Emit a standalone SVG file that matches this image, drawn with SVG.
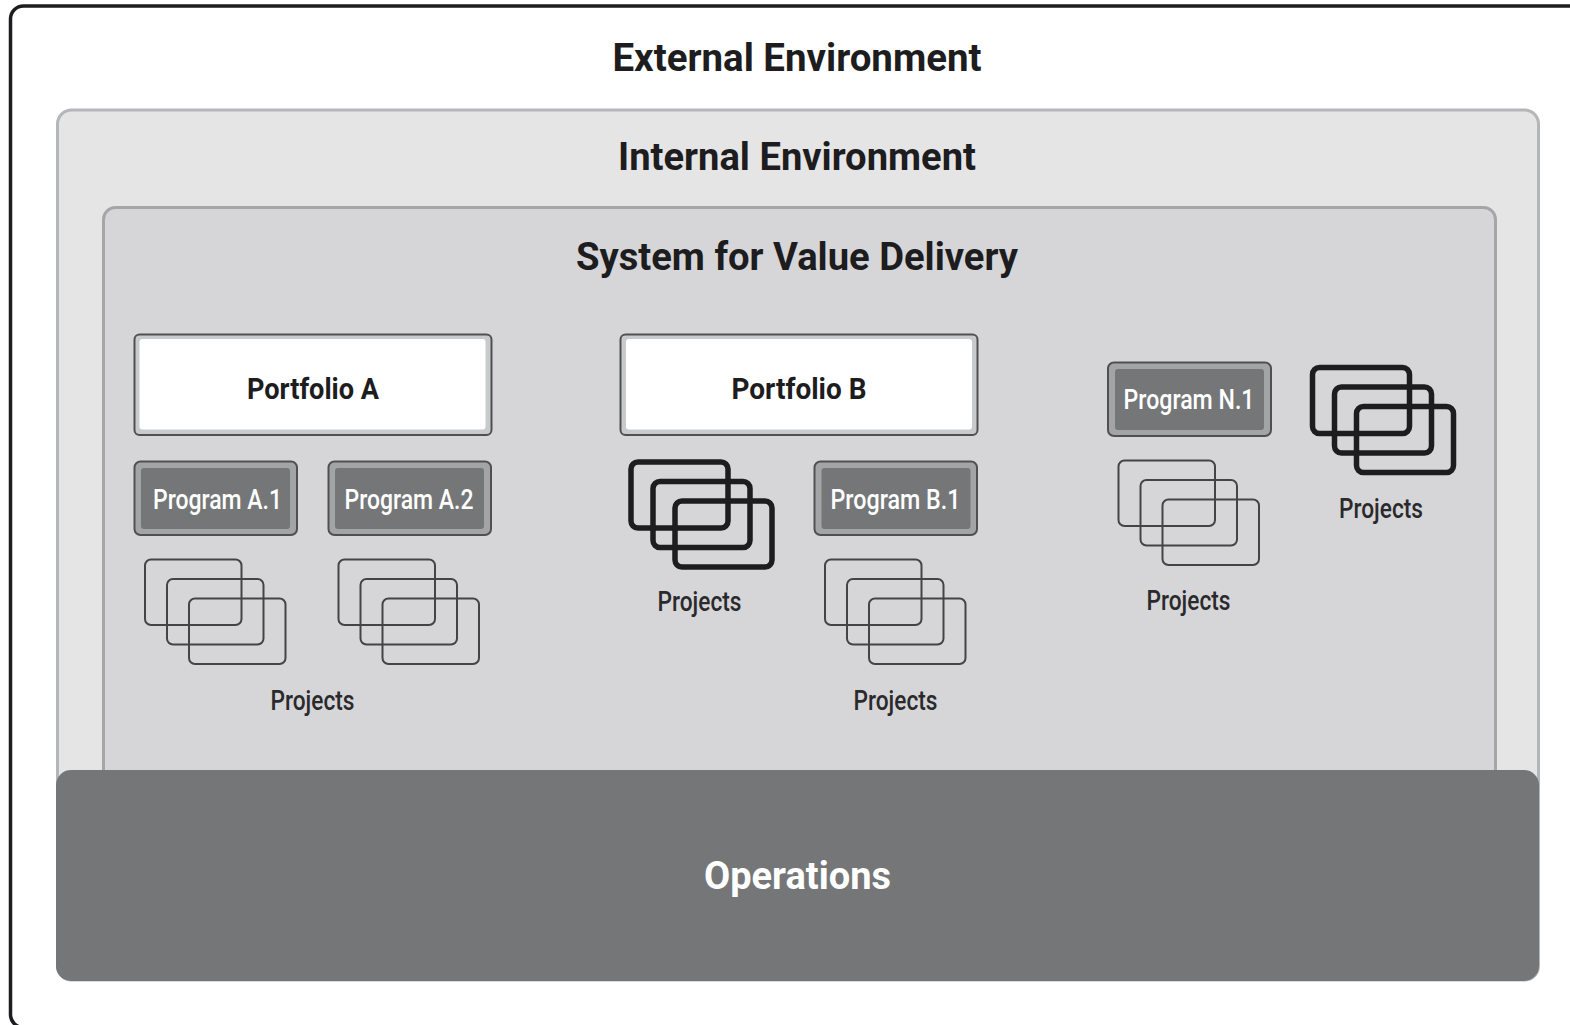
<svg xmlns="http://www.w3.org/2000/svg" width="1570" height="1025" viewBox="0 0 1570 1025">
<style>
text{font-family:Roboto,"Liberation Sans",sans-serif;text-anchor:middle}
.h{font-weight:700;font-size:38px;fill:#1d1c1e}
.p{font-weight:700;font-size:30px;fill:#1d1c1e}
.g{font-size:27px;fill:#fff;font-weight:500}
.l{font-size:27px;fill:#2a2a2c;font-weight:500}
.po{fill:#c9cacc;stroke:#505052;stroke-width:2}
.pi{fill:#fff}
.gro{fill:#a3a4a6;stroke:#505052;stroke-width:2}
.gri{fill:#757678}
.t rect{fill:none;stroke:#444446;stroke-width:2}
.k rect{fill:none;stroke:#1d1c1e;stroke-width:5.500}
</style>
<defs>
<g id="thin" class="t"><rect x="0" y="0" width="96.500" height="65.500" rx="6"/><rect x="22" y="19.500" width="96.500" height="65.500" rx="6"/><rect x="44" y="39" width="96.500" height="65.500" rx="6"/></g>
<g id="thick" class="k"><rect x="0" y="0" width="97" height="66" rx="7"/><rect x="22" y="19.500" width="97" height="66" rx="7"/><rect x="44" y="39" width="97" height="66" rx="7"/></g>
</defs>
<rect width="1570" height="1025" fill="#fff"/>
<g id="external"><rect x="10.500" y="6" width="1620" height="1021.500" rx="13" fill="#fff" stroke="#1d1c1e" stroke-width="3.500"/>
<text class="h" x="797" y="71" textLength="369" lengthAdjust="spacingAndGlyphs">External Environment</text></g>
<g id="internal"><rect x="57.500" y="110" width="1481" height="870" rx="14" fill="#e5e5e6" stroke="#b5b6b8" stroke-width="3"/>
<text class="h" x="797" y="170" textLength="358" lengthAdjust="spacingAndGlyphs">Internal Environment</text></g>
<g id="system"><rect x="103.500" y="207.500" width="1392" height="700" rx="12" fill="#d6d6d8" stroke="#a5a6a8" stroke-width="3"/>
<text class="h" x="797" y="270" textLength="442" lengthAdjust="spacingAndGlyphs">System for Value Delivery</text></g>
<g id="operations"><rect x="56" y="770" width="1483" height="211" rx="15" fill="#757678"/>
<text class="h" x="797.500" y="889" textLength="187" lengthAdjust="spacingAndGlyphs" style="fill:#fff">Operations</text></g>
<g id="portfolio-a"><rect class="po" x="134.500" y="334.500" width="357" height="100.500" rx="5"/><rect class="pi" x="139.500" y="339" width="346" height="90.500" rx="3"/>
<text class="p" x="313" y="399" textLength="132" lengthAdjust="spacingAndGlyphs">Portfolio A</text></g>
<g id="portfolio-b"><rect class="po" x="620.500" y="334.500" width="357" height="100.500" rx="5"/><rect class="pi" x="626" y="339" width="346" height="90.500" rx="3"/>
<text class="p" x="799" y="399" textLength="135" lengthAdjust="spacingAndGlyphs">Portfolio B</text></g>
<g id="program-a1"><rect class="gro" x="134.500" y="461.500" width="162.500" height="73.500" rx="6"/><rect class="gri" x="141" y="468" width="149" height="61" rx="3"/>
<text class="g" x="217.500" y="509" textLength="129" lengthAdjust="spacingAndGlyphs">Program A.1</text></g>
<g id="program-a2"><rect class="gro" x="328.500" y="461.500" width="162.500" height="73.500" rx="6"/><rect class="gri" x="335" y="468" width="149" height="61" rx="3"/>
<text class="g" x="409" y="509" textLength="129" lengthAdjust="spacingAndGlyphs">Program A.2</text></g>
<g id="program-b1"><rect class="gro" x="814.500" y="461.500" width="162.500" height="73.500" rx="6"/><rect class="gri" x="821.500" y="468" width="149" height="61" rx="3"/>
<text class="g" x="895.500" y="509" textLength="130" lengthAdjust="spacingAndGlyphs">Program B.1</text></g>
<g id="program-n1"><rect class="gro" x="1108" y="362.500" width="163" height="73.500" rx="6"/><rect class="gri" x="1115" y="369" width="149" height="61" rx="3"/>
<text class="g" x="1189" y="409" textLength="131" lengthAdjust="spacingAndGlyphs">Program N.1</text></g>
<g id="projects-a"><use href="#thin" x="145" y="559.500"/><use href="#thin" x="338.500" y="559.500"/>
<text class="l" x="312.500" y="710" textLength="84" lengthAdjust="spacingAndGlyphs">Projects</text></g>
<g id="projects-b-direct"><use href="#thick" x="631" y="462"/>
<text class="l" x="699.500" y="611" textLength="84" lengthAdjust="spacingAndGlyphs">Projects</text></g>
<g id="projects-b1"><use href="#thin" x="825" y="559.500"/>
<text class="l" x="895.500" y="710" textLength="84" lengthAdjust="spacingAndGlyphs">Projects</text></g>
<g id="projects-n1"><use href="#thin" x="1118.500" y="460.500"/>
<text class="l" x="1188.500" y="610" textLength="84" lengthAdjust="spacingAndGlyphs">Projects</text></g>
<g id="projects-n-direct"><use href="#thick" x="1312.500" y="367.500"/>
<text class="l" x="1381" y="518" textLength="84" lengthAdjust="spacingAndGlyphs">Projects</text></g>
<g id="connectors"/>
</svg>
